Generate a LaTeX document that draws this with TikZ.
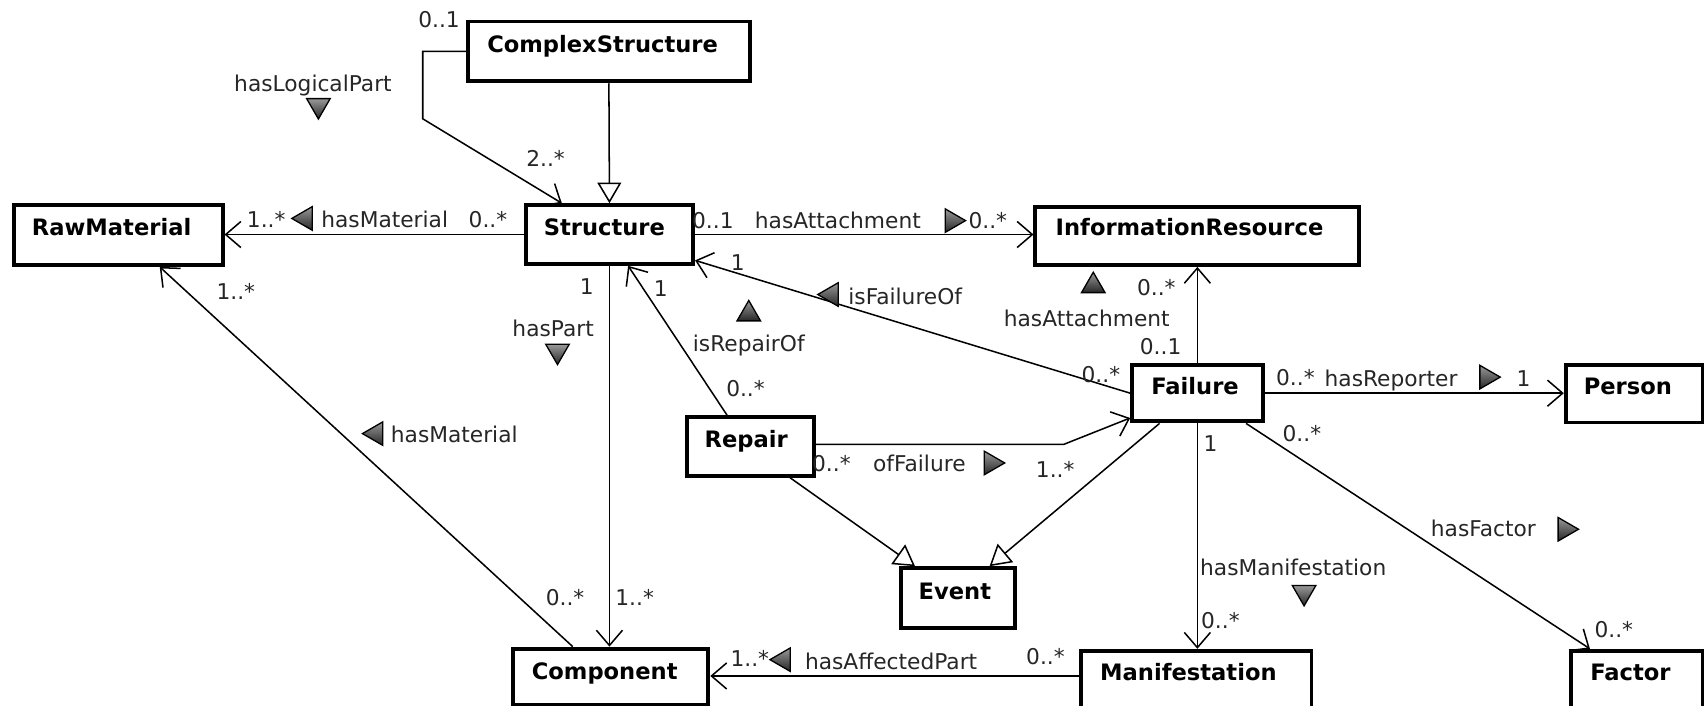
\documentclass[tikz,border=0pt]{standalone}
\usepackage{fontspec}
\setmainfont{DejaVu Sans}
\usetikzlibrary{arrows.meta,shapes.geometric,calc}
\begin{document}
\begin{tikzpicture}[x=0.5pt,y=-0.5pt,
  cls/.style={draw, line width=1.8pt, fill=white, inner sep=0pt, anchor=north west},
  cname/.style={anchor=base west, inner sep=0pt, font=\fontsize{10.4}{12}\selectfont\bfseries},
  lbl/.style={anchor=base, inner sep=0pt, font=\fontsize{10}{12}\selectfont, text=black!85},
  conn/.style={line width=0.7pt},
  assoc/.style={conn, -{Straight Barb[length=7pt,width=12pt,line width=0.7pt]}},
  gen/.style={conn, -{Triangle[open,fill=white,length=9.5pt,width=11pt,line width=0.7pt]}},
  dirt/.style={regular polygon, regular polygon sides=3, minimum size=12.5pt, inner sep=0pt, draw=black, line width=0.6pt, top color=black!40, bottom color=black!85},
]
\useasboundingbox (0,0) rectangle (1568,649);
% classes
\node[cls, minimum width=129.5pt, minimum height=27.5pt] (CS) at (429,18) {};
\node[cls, minimum width=96pt, minimum height=27.5pt] (RM) at (11,187) {};
\node[cls, minimum width=77pt, minimum height=27pt] (S) at (482,187) {};
\node[cls, minimum width=149pt, minimum height=26.5pt] (IR) at (951,189) {};
\node[cls, minimum width=60pt, minimum height=26pt] (F) at (1040,334) {};
\node[cls, minimum width=63pt, minimum height=26.5pt] (P) at (1439,334) {};
\node[cls, minimum width=58.5pt, minimum height=27pt] (R) at (630,382) {};
\node[cls, minimum width=52.5pt, minimum height=27.5pt] (E) at (827,521) {};
\node[cls, minimum width=90pt, minimum height=26pt] (C) at (470,595) {};
\node[cls, minimum width=106pt, minimum height=27pt] (M) at (993,597) {};
\node[cls, minimum width=60.5pt, minimum height=27pt] (Fa) at (1444,597) {};
% class names
\node[cname] (CSt) at ($(CS.north west)+(19,30)$) {ComplexStructure};
\node[cname] (RMt) at ($(RM.north west)+(18,30)$) {RawMaterial};
\node[cname] (St) at ($(S.north west)+(18,30)$) {Structure};
\node[cname] (IRt) at ($(IR.north west)+(20,28)$) {InformationResource};
\node[cname] (Ft) at ($(F.north west)+(19,29)$) {Failure};
\node[cname] (Pt) at ($(P.north west)+(18,29)$) {Person};
\node[cname] (Rt) at ($(R.north west)+(18,30)$) {Repair};
\node[cname] (Et) at ($(E.north west)+(18,31)$) {Event};
\node[cname] (Ct) at ($(C.north west)+(19,30)$) {Component};
\node[cname] (Mt) at ($(M.north west)+(19,29)$) {Manifestation};
\node[cname] (Fat) at ($(Fa.north west)+(19,29)$) {Factor};
% helper points
\coordinate (Mw) at ($(M.north west)+(0,25)$);
\coordinate (Re) at ($(R.north east)+(0,27)$);
% connectors
\draw[gen] (CS.south) -- (S.north);
\draw[assoc] (CS.west) -- ++(-40,0) -- ++(0,62) -- ($(S.north west)+(35,0)$);
\draw[assoc] (S.west) -- (S.west -| RM.east);
\draw[assoc] (S.east) -- (S.east -| IR.west);
\draw[assoc] (S.south) -- (S.south |- C.north);
\draw[assoc] ($(R.north west)+(39,0)$) -- ($(S.south west)+(96,0)$);
\draw[assoc] (F.west) -- ($(S.south east)+(0,-5)$);
\draw[assoc] (F.north) -- (F.north |- IR.south);
\draw[assoc] (F.east) -- (F.east -| P.west);
\draw[assoc] (Re) -- ++(228,0) -- ($(F.south west)+(0,-5)$);
\draw[gen] ($(R.south west)+(97,0)$) -- ($(E.north west)+(15,0)$);
\draw[gen] ($(F.south west)+(27,0)$) -- ($(E.north east)+(-25,0)$);
\draw[assoc] (F.south) -- (F.south |- M.north);
\draw[assoc] ($(F.south east)+(-17,0)$) -- ($(Fa.north west)+(19,0)$);
\draw[assoc] ($(C.north west)+(57,0)$) -- ($(RM.south west)+(136,0)$);
\draw[assoc] (Mw) -- (Mw -| C.east);
% labels
\node[lbl] (l1) at (404,25) {0..1};
\node[lbl] (l2) at (288,84) {hasLogicalPart};
\node[dirt, shape border rotate=180] (d1) at (293,97) {};
\node[lbl] (l3) at (502,153) {2..*};
\node[lbl] (l4) at (245,209) {1..*};
\node[dirt, shape border rotate=90] (d2) at (281,201) {};
\node[lbl] (l5) at (354,209) {hasMaterial};
\node[lbl] (l6) at (449,209) {0..*};
\node[lbl] (l7) at (656,210) {0..1};
\node[lbl] (l8) at (771,210) {hasAttachment};
\node[dirt, shape border rotate=270] (d3) at (876,203) {};
\node[lbl] (l9) at (909,210) {0..*};
\node[lbl] (l10) at (217,276) {1..*};
\node[lbl] (l11) at (540,271) {1};
\node[lbl] (l12) at (509,310) {hasPart};
\node[dirt, shape border rotate=180] (d4) at (513,323) {};
\node[lbl] (l13) at (608,273) {1};
\node[lbl] (l14) at (679,249) {1};
\node[dirt] (d5) at (689,289) {};
\node[lbl] (l15) at (689,323) {isRepairOf};
\node[dirt, shape border rotate=90] (d6) at (765,271) {};
\node[lbl] (l16) at (833,280) {isFailureOf};
\node[dirt] (d7) at (1006,263) {};
\node[lbl] (l17) at (1064,272) {0..*};
\node[lbl] (l18) at (1000,300) {hasAttachment};
\node[lbl] (l19) at (1068,326) {0..1};
\node[lbl] (l20) at (686,365) {0..*};
\node[lbl] (l21) at (1013,352) {0..*};
\node[lbl] (l22) at (1192,355) {0..*};
\node[lbl] (l23) at (1280,356) {hasReporter};
\node[dirt, shape border rotate=270] (d8) at (1368,347) {};
\node[lbl] (l24) at (1402,356) {1};
\node[dirt, shape border rotate=90] (d9) at (346,399) {};
\node[lbl] (l25) at (418,407) {hasMaterial};
\node[lbl] (l26) at (765,434) {0..*};
\node[lbl] (l27) at (846,434) {ofFailure};
\node[dirt, shape border rotate=270] (d10) at (912,426) {};
\node[lbl] (l28) at (971,439) {1..*};
\node[lbl] (l29) at (1114,415) {1};
\node[lbl] (l30) at (1198,406) {0..*};
\node[lbl] (l31) at (1365,494) {hasFactor};
\node[dirt, shape border rotate=270] (d11) at (1440,487) {};
\node[lbl] (l32) at (1190,530) {hasManifestation};
\node[dirt, shape border rotate=180] (d12) at (1200,545) {};
\node[lbl] (l33) at (1123,578) {0..*};
\node[lbl] (l34) at (1485,587) {0..*};
\node[lbl] (l35) at (520,557) {0..*};
\node[lbl] (l36) at (584,557) {1..*};
\node[lbl] (l37) at (690,613) {1..*};
\node[dirt, shape border rotate=90] (d13) at (721,607) {};
\node[lbl] (l38) at (820,616) {hasAffectedPart};
\node[lbl] (l39) at (962,611) {0..*};
\end{tikzpicture}
\end{document}
